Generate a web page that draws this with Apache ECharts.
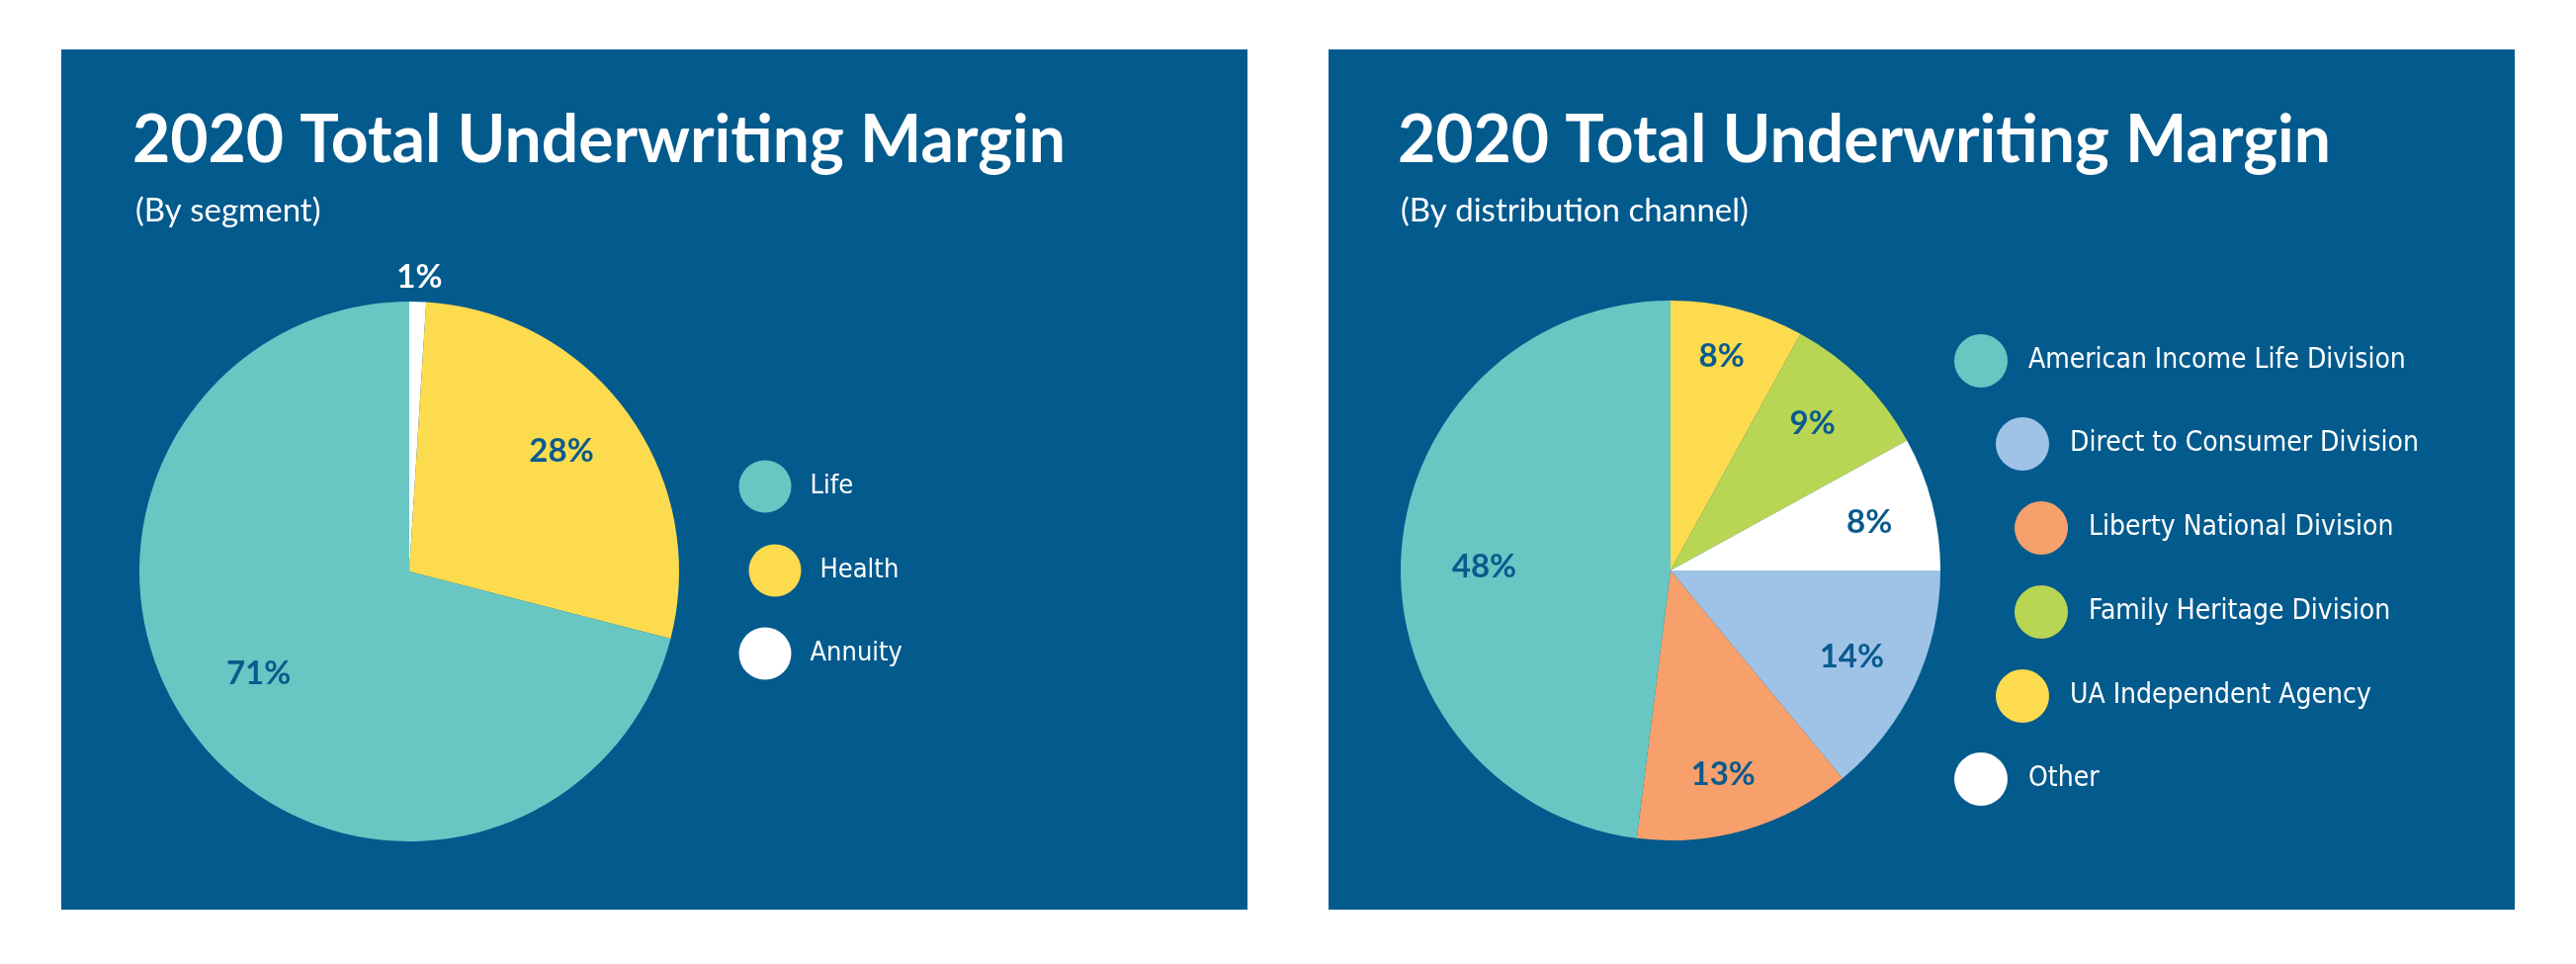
<!DOCTYPE html>
<html>
<head>
<meta charset="utf-8">
<script src="https://cdn.jsdelivr.net/npm/echarts@6/dist/echarts.min.js"></script>
<style>
html,body{margin:0;padding:0;background:#fff;}
#chart{width:2606px;height:975px;}
</style>
</head>
<body>
<div id="chart"></div>
<script>
// ---- Data ----
const titleText = '2020 Total Underwriting Margin';
const leftSubtitle = '(By segment)';
const rightSubtitle = '(By distribution channel)';

// Pie order, clockwise from 12 o'clock
const segmentNames = ['Annuity', 'Health', 'Life'];
const segmentValues = [1, 28, 71];
const segmentLegendOrder = ['Life', 'Health', 'Annuity'];

const channelNames = ['UA Independent Agency', 'Family Heritage Division', 'Other',
  'Direct to Consumer Division', 'Liberty National Division', 'American Income Life Division'];
const channelValues = [8, 9, 8, 14, 13, 48];
const channelLegendOrder = ['American Income Life Division', 'Direct to Consumer Division',
  'Liberty National Division', 'Family Heritage Division', 'UA Independent Agency', 'Other'];

// ---- Styles / layout ----
const colorMap = {
  'Life': '#68C7C3', 'Health': '#FDDB4F', 'Annuity': '#FFFFFF',
  'American Income Life Division': '#68C7C3', 'Direct to Consumer Division': '#9FC3E7',
  'Liberty National Division': '#F7A06B', 'Family Heritage Division': '#B8D654',
  'UA Independent Agency': '#FDDB4F', 'Other': '#FFFFFF'
};
const panelColor = '#035A8D';
const labelColor = '#0B5A8E';
const headFont = 'Lato, "Noto Sans", sans-serif';
const legendFont = '"Liberation Sans Narrow", "DejaVu Sans Condensed", "Roboto", sans-serif';

const leftPie = {center: [414, 578], r: 273, labelR: 0.7};
const rightPie = {center: [1690, 577], r: 273, labelR: 0.78};
// fine label nudges (px), in pie order
const leftLabelNudge = [[0, 0], [-3, -8], [1, -16]];
const rightLabelNudge = [[-2, -7], [-9, 4], [-8, 5], [-12, -5], [-7, -1], [27, 10]];

const leftLegendPos = [[774, 492], [784, 577], [774, 661]];
const rightLegendPos = [[2004, 365], [2046, 449], [2065, 534], [2065, 619], [2046, 704], [2004, 788]];

function mainData(names, values, outsideName) {
  return names.map((n, i) => {
    const d = {name: n, value: values[i], itemStyle: {color: colorMap[n]}};
    if (n === outsideName) {
      d.label = {show: true, position: 'outside', color: '#fff', fontSize: 33, fontWeight: 'bold',
        fontFamily: headFont, formatter: '{c}%'};
      d.labelLine = {show: false, length: 27, length2: 0};
    }
    return d;
  });
}
function overlayData(names, values, skipName) {
  return names.map((n, i) => {
    const d = {name: n, value: values[i]};
    if (n === skipName) d.label = {show: false};
    return d;
  });
}
function legendItems(order, pos, size, fontSize, pad) {
  return order.map((n, i) => ({
    data: [n], left: pos[i][0] - size / 2, top: pos[i][1] - size / 2, orient: 'vertical',
    icon: 'circle', itemWidth: size, itemHeight: size, padding: 0, selectedMode: false,
    textStyle: {color: '#fff', fontSize: fontSize, fontFamily: legendFont, padding: [0, 0, 0, pad]}
  }));
}

const chart = echarts.init(document.getElementById('chart'), null, {renderer: 'canvas'});
const overlayBase = {
  type: 'pie', silent: true, startAngle: 90, clockwise: true,
  itemStyle: {color: 'rgba(0,0,0,0)'}, emphasis: {disabled: true},
  label: {show: true, position: 'inside', formatter: '{c}%', color: labelColor,
    fontSize: 33, fontWeight: 'bold', fontFamily: headFont},
  labelLine: {show: false}
};

chart.setOption({
  backgroundColor: '#ffffff',
  animation: false,
  graphic: [
    {type: 'rect', shape: {x: 62, y: 50, width: 1200, height: 870}, style: {fill: panelColor}, z: -10},
    {type: 'rect', shape: {x: 1344, y: 50, width: 1200, height: 870}, style: {fill: panelColor}, z: -10}
  ],
  title: [
    {text: titleText, left: 134, top: 110, padding: 0, textStyle: {color: '#fff', fontSize: 66, fontWeight: 'bold', fontFamily: headFont}},
    {text: leftSubtitle, left: 137, top: 197, padding: 0, textStyle: {color: '#fff', fontSize: 33, fontWeight: 'normal', fontFamily: headFont}},
    {text: titleText, left: 1414, top: 110, padding: 0, textStyle: {color: '#fff', fontSize: 66, fontWeight: 'bold', fontFamily: headFont}},
    {text: rightSubtitle, left: 1417, top: 197, padding: 0, textStyle: {color: '#fff', fontSize: 33, fontWeight: 'normal', fontFamily: headFont}}
  ],
  legend: legendItems(segmentLegendOrder, leftLegendPos, 53, 27, 14)
    .concat(legendItems(channelLegendOrder, rightLegendPos, 54, 28, 16)),
  series: [
    {
      type: 'pie', center: leftPie.center, radius: leftPie.r, startAngle: 90, clockwise: true,
      data: mainData(segmentNames, segmentValues, 'Annuity'),
      label: {show: false}, labelLine: {show: false},
      labelLayout: {align: 'center', dx: -4, dy: 2},
      emphasis: {scale: false}
    },
    {
      type: 'pie', center: rightPie.center, radius: rightPie.r, startAngle: 90, clockwise: true,
      data: mainData(channelNames, channelValues, null),
      label: {show: false}, labelLine: {show: false},
      emphasis: {scale: false}
    },
    Object.assign({}, overlayBase, {center: leftPie.center, radius: leftPie.r * leftPie.labelR * 2,
      data: overlayData(segmentNames, segmentValues, 'Annuity'),
      labelLayout: p => ({dx: leftLabelNudge[p.dataIndex][0], dy: leftLabelNudge[p.dataIndex][1]})}),
    Object.assign({}, overlayBase, {center: rightPie.center, radius: rightPie.r * rightPie.labelR * 2,
      data: overlayData(channelNames, channelValues, null),
      labelLayout: p => ({dx: rightLabelNudge[p.dataIndex][0], dy: rightLabelNudge[p.dataIndex][1]})})
  ]
});
</script>
</body>
</html>
